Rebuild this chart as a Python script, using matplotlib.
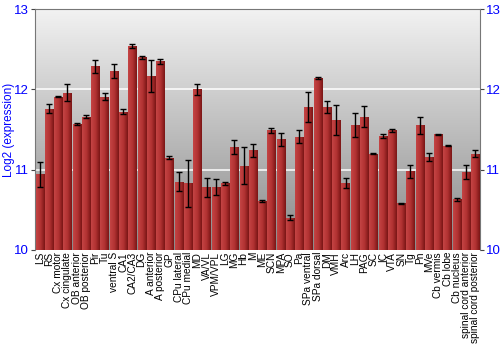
import numpy as np
import matplotlib
matplotlib.use('Agg')
import matplotlib.pyplot as plt
from matplotlib.colors import LinearSegmentedColormap

plt.rcParams['font.family'] = ['Liberation Sans', 'DejaVu Sans']

# Regions (x axis)
regions = ['LS', 'RS', 'Cx motor', 'Cx cingulate', 'OB anterior', 'OB posterior',
           'Pir', 'Tu', 'ventral S', 'CA1', 'CA2/CA3', 'DG', 'A anterior',
           'A posterior', 'GP', 'CPu lateral', 'CPu medial', 'MD', 'VA/VL',
           'VPM/VPL', 'LG', 'MG', 'Hb', 'M', 'ME', 'SCN', 'MPA', 'SO', 'Pa',
           'SPa ventral', 'SPa dorsal', 'DM', 'VMH', 'Arc', 'LH', 'PAG', 'SC',
           'IC', 'VTA', 'SN', 'Tg', 'Pn', 'MVe', 'Cb vermis', 'Cb lobe',
           'Cb nucleus', 'spinal cord anterior', 'spinal cord posterior']

# Log2 expression values
expression = [10.94, 11.76, 11.91, 11.96, 11.57, 11.66, 12.29, 11.91, 12.23,
              11.72, 12.54, 12.40, 12.17, 12.35, 11.15, 10.85, 10.83, 12.00,
              10.78, 10.78, 10.83, 11.28, 11.05, 11.24, 10.61, 11.49, 11.38,
              10.40, 11.41, 11.78, 12.14, 11.78, 11.62, 10.83, 11.56, 11.66,
              11.20, 11.42, 11.49, 10.58, 10.98, 11.55, 11.16, 11.44, 11.30,
              10.63, 10.97, 11.20]

# Error (+/-)
errors = [0.16, 0.06, 0.01, 0.11, 0.01, 0.02, 0.08, 0.04, 0.09, 0.03, 0.02,
          0.02, 0.20, 0.03, 0.02, 0.12, 0.29, 0.07, 0.12, 0.10, 0.02, 0.09,
          0.23, 0.08, 0.01, 0.03, 0.08, 0.03, 0.08, 0.19, 0.01, 0.07, 0.19,
          0.06, 0.15, 0.13, 0.01, 0.03, 0.02, 0.01, 0.08, 0.10, 0.05, 0.01,
          0.01, 0.02, 0.09, 0.04]

ymin, ymax = 10, 13
blue = '#0000ff'

fig = plt.figure(figsize=(5, 3.5), dpi=100)
ax = fig.add_axes([0.07, 0.286, 0.89, 0.688])

x = np.arange(len(regions))
ax.set_xlim(-0.5, len(regions) - 0.5)
ax.set_ylim(ymin, ymax)

# Gradient background
bg_cmap = LinearSegmentedColormap.from_list('bg', ['#8a8a8a', '#f2f2f2'])
grad = np.linspace(0, 1, 256).reshape(-1, 1)
ax.imshow(grad, cmap=bg_cmap, aspect='auto', origin='lower',
          extent=[-0.5, len(regions) - 0.5, ymin, ymax], zorder=0)

# Gridlines
for gy in [11, 12]:
    ax.axhline(gy, color='white', lw=1.2, alpha=0.9, zorder=1)

# Bars with horizontal gradient
bar_cmap = LinearSegmentedColormap.from_list('bar', ['#c44444', '#b33333', '#7a1515'])
bars = ax.bar(x, [v - ymin for v in expression], bottom=ymin, width=0.88,
              color='#a52a2a', edgecolor='none', zorder=2)
hgrad = np.linspace(0, 1, 64).reshape(1, -1)
for b in bars:
    bx, by = b.get_x(), b.get_y()
    bw, bh = b.get_width(), b.get_height()
    im = ax.imshow(hgrad, cmap=bar_cmap, aspect='auto',
                   extent=[bx, bx + bw, by, by + bh], zorder=3)
    im.set_clip_path(b)

ax.errorbar(x, expression, yerr=errors, fmt='none', ecolor='black',
            elinewidth=1, capsize=2, capthick=1, zorder=4)

# Axes styling
for s in ['top', 'left', 'right']:
    ax.spines[s].set_color('#777777')
ax.spines['bottom'].set_visible(False)

ax.set_yticks([10, 11, 12, 13])
ax.tick_params(axis='y', colors='#444444', labelcolor=blue, labelsize=9.5,
               length=3, pad=1.5, left=True, right=True,
               labelleft=True, labelright=True)
ax.set_xticks(x)
ax.set_xticklabels(regions, rotation=90, fontsize=7.3)
ax.tick_params(axis='x', length=0, pad=1.5)
ax.set_ylabel('Log2 (expression)', color=blue, fontsize=8.5)
ax.yaxis.set_label_coords(-0.046, 0.5)

fig.savefig('out.png', dpi=100)
